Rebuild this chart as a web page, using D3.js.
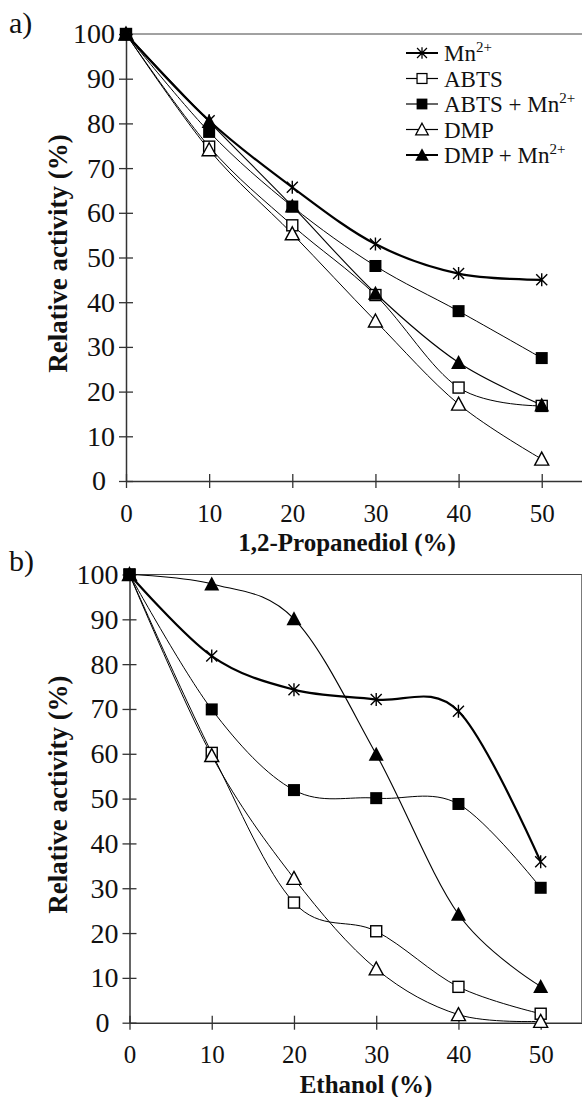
<!DOCTYPE html>
<html>
<head>
<meta charset="utf-8">
<script src="https://cdn.jsdelivr.net/npm/d3@7"></script>
<style>
  body { margin: 0; background: #fff; }
  svg { display: block; }
  text { font-family: "Times New Roman", "Liberation Serif", Tinos, "Nimbus Roman", "DejaVu Serif", serif; fill: #111; }
</style>
</head>
<body>
<div class="canvas"></div>
<script>
const WIDTH = 582;
const HEIGHT = 1097;
const FONT = '"Times New Roman", "Liberation Serif", Tinos, "Nimbus Roman", "DejaVu Serif", serif';

// concentrations of co-solvent (%)
const concentrations = [0, 10, 20, 30, 40, 50];
const xTicks = [0, 10, 20, 30, 40, 50];
const yTicks = [0, 10, 20, 30, 40, 50, 60, 70, 80, 90, 100];

const seriesNames = ['Mn', 'ABTS', 'ABTS + Mn', 'DMP', 'DMP + Mn'];
const seriesSup = ['2+', '', '2+', '', '2+'];

// a) 1,2-propanediol
const propMn = [100, 80.6, 65.7, 53.0, 46.4, 45.0];
const propAbts = [100, 74.8, 57.2, 41.6, 20.9, 16.8];
const propAbtsMn = [100, 78.1, 61.4, 48.1, 38.0, 27.5];
const propDmp = [100, 74.1, 55.3, 35.8, 17.2, 4.9];
const propDmpMn = [100, 80.4, 61.5, 42.0, 26.5, 17.0];

// b) ethanol
const ethMn = [100, 81.8, 74.3, 72.1, 69.5, 35.9];
const ethAbts = [100, 60.2, 26.8, 20.4, 8.0, 2.0];
const ethAbtsMn = [100, 69.9, 51.9, 50.1, 48.8, 30.1];
const ethDmp = [100, 59.6, 32.2, 12.0, 1.8, 0.3];
const ethDmpMn = [100, 97.9, 90.1, 59.9, 24.2, 8.1];

const svg = d3.select('.canvas')
  .append('svg')
    .attr('width', WIDTH)
    .attr('height', HEIGHT);

// marker shapes, drawn around 0,0
const markers = {
  star: g => {
    g.append('path')
      .attr('d', 'M-5.5,-5.5L5.5,5.5M-5.5,5.5L5.5,-5.5M0,-6.5L0,6.5')
      .attr('stroke', '#000').attr('stroke-width', 1.4).attr('fill', 'none');
  },
  openSquare: g => {
    g.append('rect').attr('x', -5.5).attr('y', -5.5).attr('width', 11).attr('height', 11)
      .attr('fill', '#fff').attr('stroke', '#000').attr('stroke-width', 1.4);
  },
  square: g => {
    g.append('rect').attr('x', -6).attr('y', -6).attr('width', 12).attr('height', 12)
      .attr('fill', '#000');
  },
  openTriangle: g => {
    g.append('path').attr('d', 'M0,-7L7,6L-7,6Z')
      .attr('fill', '#fff').attr('stroke', '#000').attr('stroke-width', 1.4);
  },
  triangle: g => {
    g.append('path').attr('d', 'M0,-7.5L7.5,6.5L-7.5,6.5Z').attr('fill', '#000');
  }
};
const seriesMarkers = ['star', 'openSquare', 'square', 'openTriangle', 'triangle'];
const seriesWidths = [2.2, 1, 1, 1, 1.1];

function drawPanel(cfg) {
  const x = d3.scaleLinear().domain([0, 55]).range(cfg.xRange);
  const y = d3.scaleLinear().domain([0, 100]).range(cfg.yRange);
  const g = svg.append('g');

  // frame top and right
  g.append('path')
    .attr('d', `M${x(0)},${y(100)}H${x(55)}V${y(0)}`)
    .attr('fill', 'none').attr('stroke', '#444').attr('stroke-width', 1);

  const xAxis = d3.axisBottom(x).tickValues(xTicks).tickSizeInner(7).tickSizeOuter(0).tickPadding(16);
  const yAxis = d3.axisLeft(y).tickValues(yTicks).tickSizeInner(7).tickSizeOuter(0).tickPadding(4);

  const xg = g.append('g').attr('transform', `translate(0,${y(0)})`).call(xAxis);
  const yg = g.append('g').attr('transform', `translate(${x(0)},0)`).call(yAxis);

  // ticks cross the axis line
  xg.selectAll('.tick line').attr('y1', -7);
  yg.selectAll('.tick line').attr('x1', 7);
  [xg, yg].forEach(a => {
    a.attr('font-family', null).attr('font-size', null);
    a.select('.domain').attr('stroke', '#333').attr('stroke-width', 1.5);
    a.selectAll('.tick line').attr('stroke', '#333').attr('stroke-width', 1.3);
    a.selectAll('text')
      .style('font-family', FONT)
      .attr('fill', '#111');
  });
  xg.selectAll('text').style('font-size', '25px');
  yg.selectAll('text').style('font-size', '28px');
  // the zero label sits a little left of the others
  yg.selectAll('.tick text').filter(d => d === 0).attr('dx', -9);

  // axis titles
  g.append('text')
    .attr('transform', `translate(67,${(cfg.yRange[0] + cfg.yRange[1]) / 2 - 4}) rotate(-90)`)
    .attr('text-anchor', 'middle')
    .style('font-family', FONT)
    .style('font-size', '27px').style('font-weight', 'bold')
    .text('Relative activity (%)');

  g.append('text')
    .attr('x', cfg.titleX).attr('y', y(0) + 70)
    .attr('text-anchor', 'middle')
    .style('font-family', FONT)
    .style('font-size', '25px').style('font-weight', 'bold')
    .text(cfg.xTitle);

  // panel letter
  g.append('text')
    .attr('x', 9).attr('y', cfg.letterY)
    .style('font-family', FONT)
    .style('font-size', '30px')
    .text(cfg.letter);

  const line = d3.line()
    .x((d, i) => x(concentrations[i]))
    .y(d => y(d))
    .curve(d3.curveCardinal.tension(0));

  cfg.series.forEach((values, s) => {
    g.append('path')
      .attr('d', line(values))
      .attr('fill', 'none')
      .attr('stroke', '#000')
      .attr('stroke-width', seriesWidths[s]);
  });

  cfg.series.forEach((values, s) => {
    values.forEach((v, i) => {
      const m = g.append('g')
        .attr('transform', `translate(${x(concentrations[i])},${y(v)})`);
      markers[seriesMarkers[s]](m);
    });
  });
}

drawPanel({
  xRange: [126, 583.3],
  yRange: [481, 34],
  series: [propMn, propAbts, propAbtsMn, propDmp, propDmpMn],
  xTitle: '1,2-Propanediol (%)',
  titleX: 347,
  letter: 'a)',
  letterY: 33
});

drawPanel({
  xRange: [129.5, 581.8],
  yRange: [1022.7, 574.5],
  series: [ethMn, ethAbts, ethAbtsMn, ethDmp, ethDmpMn],
  xTitle: 'Ethanol (%)',
  titleX: 366,
  letter: 'b)',
  letterY: 571
});

// legend (panel a)
const legend = svg.append('g').attr('transform', 'translate(406,53)');
seriesNames.forEach((name, s) => {
  const row = legend.append('g').attr('transform', `translate(0,${s * 25.5})`);
  row.append('line')
    .attr('x1', 0).attr('x2', 32)
    .attr('stroke', '#000').attr('stroke-width', s === 0 || s === 4 ? 2 : 1.2);
  const m = row.append('g').attr('transform', 'translate(16,0) scale(0.9)');
  markers[seriesMarkers[s]](m);
  const t = row.append('text')
    .attr('x', 38).attr('y', 8)
    .style('font-family', FONT)
    .style('font-size', '23px')
    .text(name);
  if (seriesSup[s]) {
    t.append('tspan')
      .attr('dy', -9)
      .style('font-size', '15px')
      .text(seriesSup[s]);
  }
});
</script>
</body>
</html>
